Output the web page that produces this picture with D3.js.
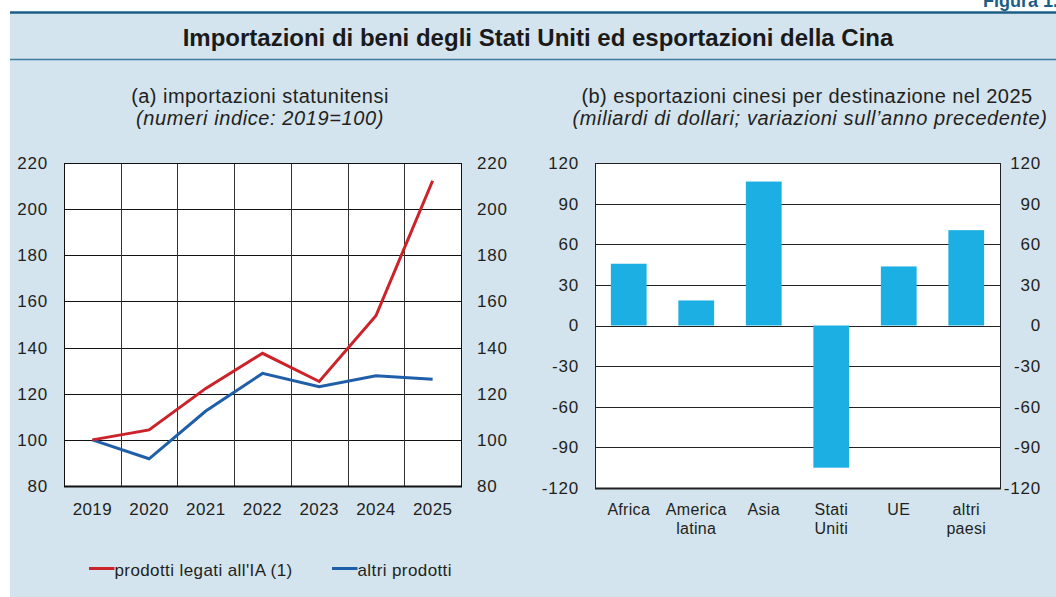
<!DOCTYPE html>
<html><head><meta charset="utf-8">
<script src="https://cdn.jsdelivr.net/npm/d3@7"></script>
<style>
body{margin:0;background:#fff;}
svg{display:block;font-family:"Liberation Sans",Arial,sans-serif;}
</style></head>
<body>
<svg id="c" width="1056" height="597"></svg>
<script>
const years = ["2019","2020","2021","2022","2023","2024","2025"];
const aiProducts = [100, 104.3, 122.3, 137.5, 125.3, 153.8, 212.3];
const otherProducts = [100, 91.8, 112.5, 128.8, 123, 127.8, 126.3];
const leftTicks = [80,100,120,140,160,180,200,220];
const destinations = [["Africa"],["America","latina"],["Asia"],["Stati","Uniti"],["UE"],["altri","paesi"]];
const exportChange = [45.6, 18.5, 106.3, -105, 43.6, 70.4];
const rightTicks = [-120,-90,-60,-30,0,30,60,90,120];
const seriesNames = ["prodotti legati all'IA (1)","altri prodotti"];

const svg = d3.select("#c");
const navy = "#1b5e86";
const txt = "#231f20";
const FONT = "Liberation Sans, Arial, sans-serif";

svg.append("rect").attr("x",10).attr("y",13).attr("width",1046).attr("height",584).attr("fill","#d3e4ee");
svg.append("line").attr("x1",10).attr("x2",1056).attr("y1",12.5).attr("y2",12.5).attr("stroke",navy).attr("stroke-width",2.5);
svg.append("line").attr("x1",10).attr("x2",1056).attr("y1",59.5).attr("y2",59.5).attr("stroke","#3f7c9e").attr("stroke-width",1.5);
svg.append("text").attr("x",1058).attr("y",7).attr("text-anchor","end").attr("font-weight","bold")
  .attr("font-size",18).attr("fill",navy).text("Figura 1.");
svg.append("text").attr("x",538).attr("y",46).attr("text-anchor","middle").attr("font-weight","bold")
  .attr("font-size",24).attr("fill","#1a1a1a").text("Importazioni di beni degli Stati Uniti ed esportazioni della Cina");

function subtitle(x, y, s, italic){
  svg.append("text").attr("x",x).attr("y",y).attr("text-anchor","middle").attr("font-size",20)
    .attr("letter-spacing", italic ? 0.6 : 0.45)
    .attr("font-style", italic ? "italic" : "normal").attr("fill",txt).text(s);
}
function styleAxis(g, size, ls){
  g.select(".domain").remove();
  g.selectAll("text").attr("font-size",size).attr("letter-spacing",ls).attr("fill",txt).attr("font-family",FONT);
}

// ---------- Panel (a)
const L = {x0:64, x1:461, y0:163, y1:486};
subtitle(260, 103, "(a) importazioni statunitensi", false);
subtitle(260, 125, "(numeri indice: 2019=100)", true);

const xa = d3.scaleBand().domain(years).range([L.x0,L.x1]);
const ya = d3.scaleLinear().domain([80,220]).range([L.y1,L.y0]);
const ga = svg.append("g");
ga.append("rect").attr("x",L.x0).attr("y",L.y0).attr("width",L.x1-L.x0).attr("height",L.y1-L.y0).attr("fill","#fff");
ga.selectAll("line.h").data(leftTicks).join("line").attr("x1",L.x0).attr("x2",L.x1)
  .attr("y1",d=>Math.round(ya(d))+0.5).attr("y2",d=>Math.round(ya(d))+0.5).attr("stroke","#111").attr("stroke-width",1);
ga.selectAll("line.v").data(years.slice(1)).join("line").attr("y1",L.y0).attr("y2",L.y1)
  .attr("x1",d=>Math.round(xa(d))+0.5).attr("x2",d=>Math.round(xa(d))+0.5).attr("stroke","#333").attr("stroke-width",1);
ga.append("rect").attr("x",L.x0+0.5).attr("y",L.y0+0.5).attr("width",L.x1-L.x0).attr("height",L.y1-L.y0).attr("fill","none").attr("stroke","#111");
ga.append("line").attr("x1",L.x0).attr("x2",L.x1+1).attr("y1",L.y1+0.5).attr("y2",L.y1+0.5).attr("stroke","#111").attr("stroke-width",2);

const fmt = d => String(d);
const gL = svg.append("g").attr("transform",`translate(${L.x0},0)`).call(d3.axisLeft(ya).tickValues(leftTicks).tickFormat(fmt).tickSize(0).tickPadding(16));
const gR = svg.append("g").attr("transform",`translate(${L.x1},0)`).call(d3.axisRight(ya).tickValues(leftTicks).tickFormat(fmt).tickSize(0).tickPadding(16));
const gB = svg.append("g").attr("transform",`translate(0,${L.y1})`).call(d3.axisBottom(xa).tickSize(0).tickPadding(17));
styleAxis(gL,17,0.8); styleAxis(gR,17,0.8); styleAxis(gB,17,0.4);

const line = d3.line().x((d,i)=>xa(years[i])+xa.bandwidth()/2).y(d=>ya(d));
const colors = ["#cc2229","#1f5ea8"];
ga.append("path").datum(otherProducts).attr("d",line).attr("fill","none").attr("stroke",colors[1]).attr("stroke-width",3);
ga.append("path").datum(aiProducts).attr("d",line).attr("fill","none").attr("stroke",colors[0]).attr("stroke-width",3);

// legend
const legX = [89,332];
seriesNames.forEach((n,i)=>{
  svg.append("line").attr("x1",legX[i]).attr("x2",legX[i]+25.5).attr("y1",568.5).attr("y2",568.5).attr("stroke",colors[i]).attr("stroke-width",3);
  svg.append("text").attr("x",legX[i]+25.5).attr("y",575.5).attr("font-size",17).attr("letter-spacing",0.4).attr("fill",txt).text(n);
});

// ---------- Panel (b)
const R = {x0:595, x1:1000, y0:163, y1:488};
subtitle(807, 103, "(b) esportazioni cinesi per destinazione nel 2025", false);
subtitle(810, 125, "(miliardi di dollari; variazioni sull\u2019anno precedente)", true);

const catKeys = destinations.map(d=>d.join(" "));
const xb = d3.scaleBand().domain(catKeys).range([R.x0,R.x1]).paddingInner(0.47).paddingOuter(0.235);
const yb = d3.scaleLinear().domain([-120,120]).range([R.y1,R.y0]);
const gb = svg.append("g");
gb.append("rect").attr("x",R.x0).attr("y",R.y0).attr("width",R.x1-R.x0).attr("height",R.y1-R.y0).attr("fill","#fff");
gb.selectAll("line.h").data(rightTicks).join("line").attr("x1",R.x0).attr("x2",R.x1)
  .attr("y1",d=>Math.round(yb(d))+0.5).attr("y2",d=>Math.round(yb(d))+0.5).attr("stroke","#222").attr("stroke-width",1);
gb.selectAll("rect.bar").data(exportChange).join("rect").attr("class","bar")
  .attr("x",(d,i)=>xb(catKeys[i])).attr("width",xb.bandwidth())
  .attr("y",d=>yb(Math.max(0,d))).attr("height",d=>Math.abs(yb(d)-yb(0)))
  .attr("fill","#1cafe3");
gb.append("rect").attr("x",R.x0+0.5).attr("y",R.y0+0.5).attr("width",R.x1-R.x0).attr("height",R.y1-R.y0).attr("fill","none").attr("stroke","#222");
gb.append("line").attr("x1",R.x0).attr("x2",R.x1+1).attr("y1",R.y1+0.5).attr("y2",R.y1+0.5).attr("stroke","#222").attr("stroke-width",2);

const bL = svg.append("g").attr("transform",`translate(${R.x0},0)`).call(d3.axisLeft(yb).tickValues(rightTicks).tickFormat(fmt).tickSize(0).tickPadding(16));
const bR = svg.append("g").attr("transform",`translate(1041,0)`).call(d3.axisLeft(yb).tickValues(rightTicks).tickFormat(fmt).tickSize(0).tickPadding(0));
styleAxis(bL,17,0.8); styleAxis(bR,17,0.8);

destinations.forEach((lines,i)=>{
  const cx = xb(catKeys[i])+xb.bandwidth()/2;
  const t = svg.append("text").attr("x",cx).attr("y",514.5).attr("text-anchor","middle").attr("font-size",16).attr("letter-spacing",0.3).attr("fill",txt);
  lines.forEach((l,j)=>t.append("tspan").attr("x",cx).attr("dy",j?19.5:0).text(l));
});
</script>
</body></html>
